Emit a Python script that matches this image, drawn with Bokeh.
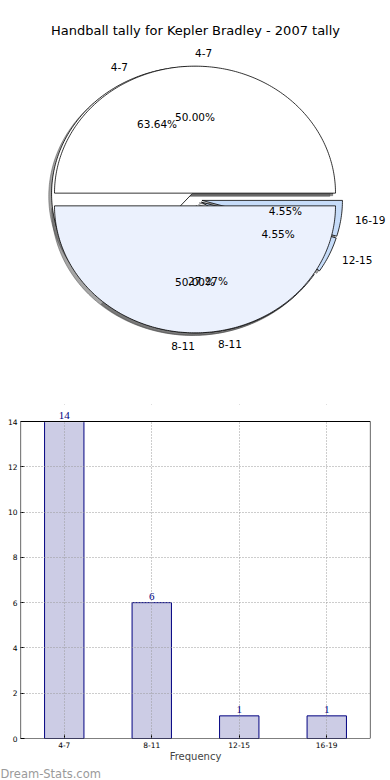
import numpy as np
from bokeh.plotting import figure
from bokeh.models import (Range1d, Label, LabelSet, ColumnDataSource, FactorRange, FixedTicker,
                          BoxAnnotation, Title)
from bokeh.core.properties import value
from bokeh.embed import file_html
from bokeh.resources import INLINE

# ---------------- data ----------------
title_text = "Handball tally for Kepler Bradley - 2007 tally"
intervals = ["4-7", "8-11", "12-15", "16-19"]
counts = [14, 6, 1, 1]
pie_a_labels = ["4-7", "8-11"]
pie_a_values = [50, 50]
pie_a_colors = ["#FFFFFF", "#EBF1FD"]
pie_b_labels = intervals
pie_b_values = counts
pie_b_colors = ["#FFFFFF", "#EBF1FD", "#C6DCF9", "#C6DCF9"]
y_ticks = [0, 2, 4, 6, 8, 10, 12, 14]
x_label = "Frequency"
watermark = "Dream-Stats.com"

FONT = "DejaVu Sans"

# ---------------- pie figure ----------------
W1, H1 = 390, 396
cx_px, cy_px = 194.5, 199.0
rx_px, ry_px = 140.5, 127.0
p1 = figure(width=W1, height=H1,
            x_range=Range1d(-cx_px / rx_px, (W1 - cx_px) / rx_px),
            y_range=Range1d(-(H1 - cy_px) / ry_px, cy_px / ry_px),
            output_backend="svg", toolbar_location=None,
            x_axis_location=None, y_axis_location=None, min_border=0)
p1.grid.visible = False
p1.outline_line_color = None

EXPLODE = 0.05


def pie_parts(vals, labels, colors):
    vals = np.asarray(vals, dtype=float)
    fr = vals / vals.sum()
    t2 = np.cumsum(fr)
    t1 = np.concatenate([[0.0], t2[:-1]])
    xs, ys, sx, sy = [], [], [], []
    lab = dict(x=[], y=[], text=[], align=[])
    pct = dict(x=[], y=[], text=[])
    for a, b, f, l in zip(t1, t2, fr, labels):
        mid = np.pi * (a + b)
        ox, oy = EXPLODE * np.cos(mid), EXPLODE * np.sin(mid)
        th = np.linspace(2 * np.pi * a, 2 * np.pi * b, max(int(400 * (b - a)), 12))
        px = np.concatenate([[ox], ox + np.cos(th), [ox]])
        py = np.concatenate([[oy], oy + np.sin(th), [oy]])
        xs.append(px.tolist()); ys.append(py.tolist())
        sx.append((px - 0.02).tolist()); sy.append((py - 0.02).tolist())
        lx = ox + 1.1 * np.cos(mid); ly = oy + 1.1 * np.sin(mid)
        lab["x"].append(lx); lab["y"].append(ly); lab["text"].append(l)
        lab["align"].append("left" if lx > 0 else "right")
        pct["x"].append(ox + 0.6 * np.cos(mid)); pct["y"].append(oy + 0.6 * np.sin(mid))
        pct["text"].append("%.2f%%" % (100 * f))
    wedges = dict(xs=xs, ys=ys, color=list(colors))
    shadows = dict(xs=sx, ys=sy)
    return wedges, shadows, lab, pct


wb, sb, lb, pb = pie_parts(pie_b_values, pie_b_labels, pie_b_colors)
wa, sa, la, pa = pie_parts(pie_a_values, pie_a_labels, pie_a_colors)

for s in (sb, sa):
    p1.patches("xs", "ys", source=ColumnDataSource(s), fill_color="#4d4d4d", fill_alpha=0.5,
               line_color="#4d4d4d", line_alpha=0.5, line_width=1)
for w in (wb, wa):
    p1.patches("xs", "ys", source=ColumnDataSource(w), fill_color="color",
               line_color="black", line_width=0.8)
for lab, pct in ((lb, pb), (la, pa)):
    p1.text("x", "y", text="text", source=ColumnDataSource(lab), text_align="align",
            text_baseline="middle", text_font=value(FONT), text_font_size="10.5px",
            text_color="black")
    p1.text("x", "y", text="text", source=ColumnDataSource(pct), text_align="center",
            text_baseline="middle", text_font=value(FONT), text_font_size="10.5px",
            text_color="black")

p1.add_layout(Label(x=W1 / 2, y=H1 - 30, x_units="screen", y_units="screen", text=title_text,
                    text_align="center", text_baseline="middle", text_font=FONT,
                    text_font_size="13px", text_color="black"))

# ---------------- bar figure ----------------
W2, H2 = 390, 384
y_top_px, y_zero_px, frame_top_px = 421.0, 738.0, 404.0
y_max = max(y_ticks) + (y_top_px - frame_top_px) * max(y_ticks) / (y_zero_px - y_top_px)
p2 = figure(width=W2, height=H2, x_range=FactorRange(*intervals), y_range=Range1d(0, y_max),
            output_backend="svg", toolbar_location=None,
            min_border_top=int(frame_top_px - H1), min_border_right=20, min_border_left=20,
            min_border_bottom=int(H1 + H2 - y_zero_px))
p2.outline_line_color = None
src = ColumnDataSource(dict(x=intervals, top=counts, lab=[str(c) for c in counts]))
p2.vbar(x="x", top="top", width=0.45, source=src, fill_color="#CCCCE5",
        line_color="#000080", line_width=1)

for g in (p2.xgrid, p2.ygrid):
    g.grid_line_color = "#9a9a9a"
    g.grid_line_dash = "1 2"
    g.level = "annotation"
p2.add_layout(BoxAnnotation(bottom=max(y_ticks), fill_color="white", fill_alpha=1,
                            line_color="white", line_width=2, level="annotation"))
p2.add_layout(BoxAnnotation(bottom=0, top=max(y_ticks), fill_alpha=0, line_color="black",
                            line_width=1.2, line_alpha=1, level="annotation"))
p2.add_layout(LabelSet(x="x", y="top", text="lab", source=src, text_align="center",
                       text_baseline="bottom", y_offset=3, text_font=FONT,
                       text_font_size="11px", text_color="#000080", level="annotation"))

p2.yaxis.ticker = FixedTicker(ticks=y_ticks)
for ax in (p2.xaxis, p2.yaxis):
    ax.major_label_text_font = FONT
    ax.major_label_text_font_size = "7.5px"
    ax.major_label_text_color = "black"
    ax.major_tick_in = 4
    ax.major_tick_out = 0
    ax.major_tick_line_color = "black"
    ax.minor_tick_line_color = None
    ax.axis_line_color = None
    ax.major_label_standoff = 3
p2.xaxis.axis_label = x_label
p2.xaxis.axis_label_text_font = FONT
p2.xaxis.axis_label_text_font_size = "10px"
p2.xaxis.axis_label_text_font_style = "normal"
p2.xaxis.axis_label_standoff = 0
p2.add_layout(Title(text=watermark, align="left", offset=-20, standoff=0, text_font=FONT,
                    text_font_size="11.5px", text_font_style="normal", text_color="#9a9a9a",
                    text_line_height=1.0),
              "below")

open("out.html", "w").write(file_html([p1, p2], INLINE))
